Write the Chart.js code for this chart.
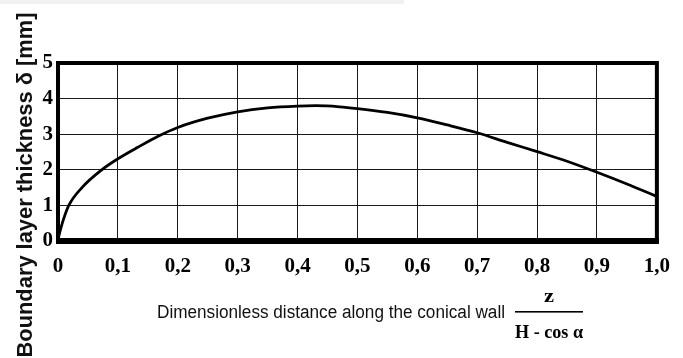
<!DOCTYPE html>
<html>
<head>
<meta charset="utf-8">
<script src="https://cdn.jsdelivr.net/npm/chart.js@4.4.1/dist/chart.umd.min.js"></script>
<style>
  html, body { margin: 0; padding: 0; background: #fff; }
  #wrap { position: relative; width: 683px; height: 358px; overflow: hidden; }
  #band { position: absolute; left: 0; top: 0; width: 404px; height: 4px; background: #f2f2f2; }
  canvas { position: absolute; left: 0; top: 0; }
</style>
</head>
<body>
<div id="wrap">
  <div id="band"></div>
  <canvas id="c" width="683" height="358"></canvas>
</div>
<script>
// Dimensionless distance z / (H·cos α) along the conical wall
const distance = [0, 0.003, 0.009, 0.018, 0.04, 0.073, 0.1, 0.134, 0.168, 0.2, 0.25, 0.3, 0.35, 0.4, 0.43, 0.47, 0.5, 0.55, 0.6, 0.65, 0.7, 0.75, 0.8, 0.85, 0.9, 0.95, 1.0];
// Boundary layer thickness δ in mm
const thickness = [0.05, 0.25, 0.6, 1.0, 1.5, 2.0, 2.31, 2.64, 2.95, 3.19, 3.45, 3.63, 3.74, 3.79, 3.8, 3.77, 3.72, 3.61, 3.46, 3.26, 3.04, 2.77, 2.51, 2.24, 1.93, 1.6, 1.25];

const xTickLabels = ['0', '0,1', '0,2', '0,3', '0,4', '0,5', '0,6', '0,7', '0,8', '0,9', '1,0'];
const yTickLabels = ['0', '1', '2', '3', '4', '5'];

const xTitle = 'Dimensionless distance along the conical wall';
const yTitle = 'Boundary layer thickness δ [mm]';
const fracTop = 'z';
const fracBottom = 'H - cos α';

const points = distance.map((d, i) => ({ x: d, y: thickness[i] }));

// Heavy frame round the plotting area (thicker along the bottom)
const framePlugin = {
  id: 'frame',
  beforeDatasetsDraw(chart) {
    const { ctx, chartArea: a } = chart;
    ctx.save();
    ctx.strokeStyle = '#000';
    ctx.lineWidth = 4;
    ctx.strokeRect(a.left, a.top, a.right - a.left, a.bottom - a.top);
    ctx.fillStyle = '#000';
    ctx.fillRect(a.left - 2, a.bottom - 3, a.right - a.left + 4, 6);
    ctx.restore();
  }
};

// Draw text squeezed or stretched horizontally to a given width
function fitText(ctx, text, x, y, width) {
  const w = ctx.measureText(text).width;
  ctx.save();
  ctx.translate(x, y);
  ctx.scale(width / w, 1);
  ctx.fillText(text, 0, 0);
  ctx.restore();
}

// Axis titles and the z / (H·cos α) fraction
const titlesPlugin = {
  id: 'titles',
  afterDraw(chart) {
    const ctx = chart.ctx;
    ctx.save();
    ctx.fillStyle = '#111';
    ctx.textBaseline = 'alphabetic';

    // vertical title, reading upward
    ctx.save();
    ctx.translate(32, 185);
    ctx.rotate(-Math.PI / 2);
    ctx.font = 'bold 22px "Liberation Sans", Arial, sans-serif';
    ctx.textAlign = 'center';
    fitText(ctx, yTitle, 0, 0, 345);
    ctx.restore();

    // horizontal title
    ctx.font = '18px "Liberation Sans", Arial, sans-serif';
    ctx.textAlign = 'left';
    fitText(ctx, xTitle, 157, 318, 348);

    // fraction
    ctx.fillStyle = '#000';
    ctx.font = 'bold 19px "Liberation Serif", "Times New Roman", serif';
    ctx.textAlign = 'left';
    fitText(ctx, fracTop, 544, 302, 10);
    ctx.fillRect(515, 311, 68, 1.6);
    ctx.font = 'bold 18px "Liberation Serif", "Times New Roman", serif';
    fitText(ctx, fracBottom, 515, 338, 68);

    ctx.restore();
  }
};

const tickFont = { family: '"Liberation Serif", "Times New Roman", serif', weight: 'bold', size: 21 };

new Chart(document.getElementById('c'), {
  type: 'line',
  data: {
    datasets: [{
      data: points,
      borderColor: '#000',
      borderWidth: 2.8,
      pointRadius: 0,
      fill: false,
      cubicInterpolationMode: 'monotone'
    }]
  },
  options: {
    responsive: false,
    animation: false,
    events: [],
    layout: { padding: { left: 0, right: 26, top: 63, bottom: 0 } },
    plugins: { legend: { display: false }, tooltip: { enabled: false } },
    scales: {
      x: {
        type: 'linear',
        min: 0, max: 1,
        ticks: {
          stepSize: 0.1, autoSkip: false, maxRotation: 0, padding: 13,
          color: '#000', font: tickFont,
          callback: (v, i) => xTickLabels[i]
        },
        grid: { color: '#1a1a1a', lineWidth: 1, drawTicks: false },
        border: { display: false },
        afterFit(s) { s.height = 117; }
      },
      y: {
        min: 0, max: 5,
        ticks: {
          stepSize: 1, padding: 5,
          color: '#000', font: tickFont,
          callback: (v, i) => yTickLabels[i]
        },
        grid: { color: '#1a1a1a', lineWidth: 1, drawTicks: false },
        border: { display: false },
        afterFit(s) { s.width = 58; }
      }
    }
  },
  plugins: [framePlugin, titlesPlugin]
});
</script>
</body>
</html>
